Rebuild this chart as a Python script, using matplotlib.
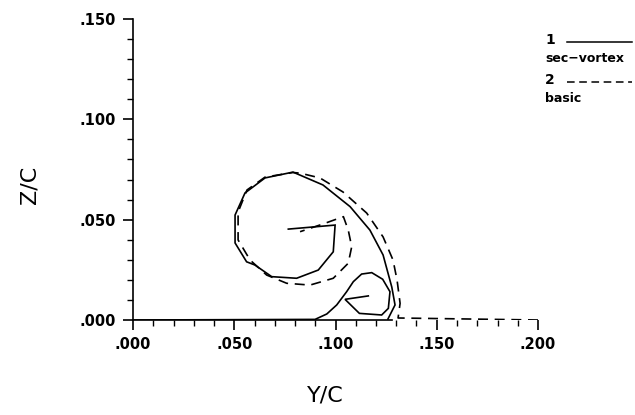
import matplotlib
matplotlib.use("Agg")
import matplotlib.pyplot as plt
from matplotlib.lines import Line2D
from matplotlib.ticker import MultipleLocator, FuncFormatter
import numpy as np

# sec-vortex curve: primary sheet (outer arc + spiral), then secondary vortex
sec_main_y = [0.1259, 0.1294, 0.1278, 0.1235, 0.1170, 0.1072, 0.0938, 0.0825, 0.0790,
              0.0652, 0.0553, 0.0504, 0.0504, 0.0561, 0.0602, 0.0685, 0.0808, 0.0915,
              0.0989, 0.0998, 0.0767]
sec_main_z = [0.0005, 0.0075, 0.0164, 0.0324, 0.0448, 0.0565, 0.0673, 0.0722, 0.0737,
              0.0708, 0.0633, 0.0523, 0.0384, 0.0290, 0.0274, 0.0216, 0.0208, 0.0249,
              0.0340, 0.0473, 0.0453]
sec_small_y = [0.0, 0.0899, 0.0957, 0.1006, 0.1055, 0.1088, 0.1129, 0.1179, 0.1233,
               0.1269, 0.1261, 0.1228, 0.1118, 0.1047, 0.1162]
sec_small_z = [0.0, 0.0003, 0.0030, 0.0075, 0.0141, 0.0191, 0.0229, 0.0236, 0.0203,
               0.0141, 0.0058, 0.0025, 0.0033, 0.0103, 0.0120]

# basic curve
basic_y = [0.2000, 0.1309, 0.1319, 0.1304, 0.1284, 0.1235, 0.1154, 0.1037, 0.0923,
           0.0825, 0.0790, 0.0652, 0.0563, 0.0519, 0.0519, 0.0578, 0.0660, 0.0759,
           0.0874, 0.0989, 0.1063, 0.1080, 0.1063, 0.1039, 0.0948, 0.0825]
basic_z = [0.0000, 0.0010, 0.0083, 0.0199, 0.0299, 0.0414, 0.0533, 0.0638, 0.0708,
           0.0732, 0.0735, 0.0712, 0.0648, 0.0538, 0.0399, 0.0299, 0.0224, 0.0183,
           0.0174, 0.0208, 0.0283, 0.0365, 0.0448, 0.0515, 0.0482, 0.0440]

x_ticks = [0.0, 0.05, 0.10, 0.15, 0.20]
y_ticks = [0.0, 0.05, 0.10, 0.15]
legend_nums = ["1", "2"]
legend_names = ["sec\u2212vortex", "basic"]

fig = plt.figure(figsize=(6.35, 4.15), dpi=100)
ax = fig.add_axes([133/635, 1-320/415, 405/635, 301/415])

lw = 1.2
ax.plot(sec_main_y, sec_main_z, color="black", lw=lw, solid_joinstyle="miter")
ax.plot(sec_small_y, sec_small_z, color="black", lw=lw, solid_joinstyle="miter")
ax.plot(basic_y, basic_z, color="black", lw=lw, linestyle=(0, (6, 4)))

ax.set_xlim(0, 0.2)
ax.set_ylim(0, 0.15)
ax.spines["top"].set_visible(False)
ax.spines["right"].set_visible(False)
ax.spines["bottom"].set_bounds(0, 0.128)
for s in ("left", "bottom"):
    ax.spines[s].set_linewidth(1.2)

fmt = FuncFormatter(lambda v, p: ("%.3f" % v)[1:] if v >= 0 else "%.3f" % v)
ax.set_xticks(x_ticks)
ax.set_yticks(y_ticks)
ax.xaxis.set_major_formatter(fmt)
ax.yaxis.set_major_formatter(fmt)
ax.xaxis.set_minor_locator(MultipleLocator(0.01))
ax.yaxis.set_minor_locator(MultipleLocator(0.01))
ax.tick_params(which="major", direction="out", length=7, width=1.2, pad=5,
               labelsize=10.5)
ax.tick_params(which="minor", direction="out", length=4, width=1.0)
for lab in ax.get_xticklabels() + ax.get_yticklabels():
    lab.set_fontweight("bold")

ax.set_xlabel("Y/C", fontsize=16, fontweight="medium")
ax.set_ylabel("Z/C", fontsize=16, fontweight="medium")
ax.xaxis.set_label_coords((325 - 133) / 405, (320 - 395) / 301)
ax.yaxis.set_label_coords((30 - 133) / 405, (320 - 185) / 301)
ax.xaxis.label.set_va("center")
ax.yaxis.label.set_va("center")

# legend
ly = [40/415, 80/415]
for i in range(2):
    fig.text(545/635, 1-ly[i], legend_nums[i], fontsize=10, fontweight="bold",
             ha="left", va="center")
    fig.add_artist(Line2D([567/635, 632/635], [1-ly[i]-2/415, 1-ly[i]-2/415],
                          color="black", lw=1.1,
                          linestyle="-" if i == 0 else (0, (5, 3)),
                          transform=fig.transFigure))
    fig.text(545/635, 1-ly[i]-18/415, legend_names[i], fontsize=9,
             fontweight="bold", ha="left", va="center")

fig.savefig("out.png", dpi=100)
